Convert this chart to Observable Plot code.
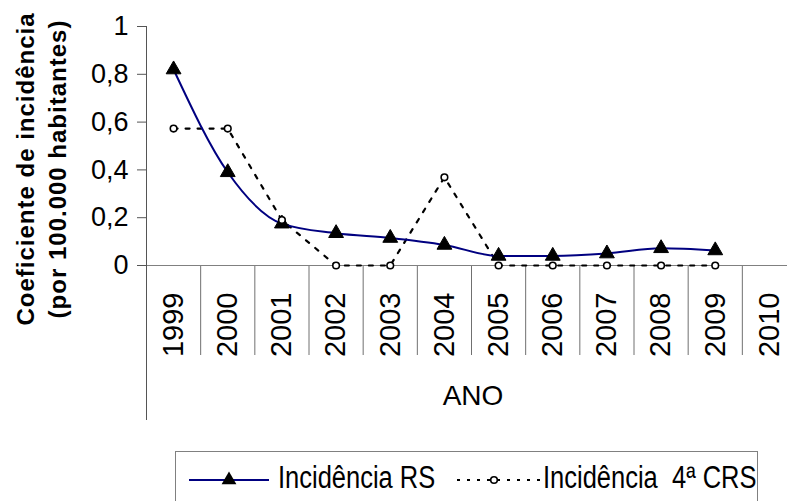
<!DOCTYPE html>
<html><head><meta charset="utf-8">
<script src="https://cdn.jsdelivr.net/npm/d3@7"></script>
<script src="https://cdn.jsdelivr.net/npm/@observablehq/plot@0.6"></script>
<style>
body{margin:0;background:#fff;font-family:"Liberation Sans",Arial,sans-serif;}
#wrap{position:relative;width:787px;height:501px;overflow:hidden;background:#fff;}
#wrap > svg{position:absolute;left:0;top:0;}
#legend{position:absolute;left:175px;top:451px;width:583px;height:60px;border:1px solid #808080;box-sizing:border-box;}
</style></head><body><div id="wrap"><div id="legend"></div></div>
<script>
// ---- data ----
const years = [1999, 2000, 2001, 2002, 2003, 2004, 2005, 2006, 2007, 2008, 2009, 2010];
const dataYears = [1999, 2000, 2001, 2002, 2003, 2004, 2005, 2006, 2007, 2008, 2009];
const rsValues = [0.82, 0.39, 0.175, 0.135, 0.115, 0.086, 0.04, 0.04, 0.05, 0.072, 0.063];
const crsValues = [0.573, 0.573, 0.19, 0, 0, 0.369, 0, 0, 0, 0, 0];
const yTicks = [0, 0.2, 0.4, 0.6, 0.8, 1];
const yTitle1 = "Coeficiente de incidência";
const yTitle2 = "(por 100.000 habitantes)";
const xTitle = "ANO";
const seriesNames = ["Incidência RS", "Incidência  4ª CRS"];

const rs = dataYears.map((year, i) => ({year, value: rsValues[i]}));
const crs = dataYears.map((year, i) => ({year, value: crsValues[i]}));
const boundaries = years.slice(0, -1).map(y => y + 0.5);

const FONT = '"Liberation Sans", Arial, sans-serif';

const chart = Plot.plot({
  width: 787, height: 451,
  marginTop: 26, marginLeft: 146, marginRight: 0, marginBottom: 186,
  style: {fontFamily: FONT, color: "black", background: "white"},
  x: {type: "linear", domain: [1998.5, 2010.5], range: [146, 796]},
  y: {domain: [0, 1], range: [265, 26]},
  marks: [
    Plot.axisX({ticks: boundaries, tickSize: 90, tickFormat: () => "", stroke: "#707070", label: null}),
    Plot.axisX({ticks: years, tickSize: 0, tickRotate: -90, tickPadding: 27, fontSize: 29, tickFormat: d => String(d), label: null}),
    Plot.axisY({ticks: yTicks, tickSize: 9, tickPadding: 9, fontSize: 27, tickFormat: d => String(d).replace(".", ","), label: null, stroke: "#555"}),
    Plot.ruleY([0], {stroke: "#808080"}),
    Plot.ruleX([1998.5], {stroke: "#555", insetBottom: -155}),
    Plot.text([xTitle], {frameAnchor: "bottom", lineAnchor: "top", dy: 120, dx: 6, fontSize: 28}),
    Plot.text([yTitle1], {frameAnchor: "left", textAnchor: "middle", rotate: -90, dx: 26 - 146, dy: 23, fontSize: 24, fontWeight: "bold"}),
    Plot.text([yTitle2], {frameAnchor: "left", textAnchor: "middle", rotate: -90, dx: 58 - 146, dy: 23, fontSize: 24, fontWeight: "bold"}),
    Plot.line(crs, {x: "year", y: "value", stroke: "black", strokeWidth: 2.2, strokeDasharray: "4,8", strokeLinecap: "round"}),
    Plot.line(rs, {x: "year", y: "value", stroke: "#000080", strokeWidth: 2, curve: "monotone-x"}),
    Plot.dot(rs, {x: "year", y: "value", symbol: "triangle", r: 5.5, fill: "black", stroke: "black", strokeWidth: 1}),
    Plot.dot(crs, {x: "year", y: "value", r: 3.3, fill: "white", stroke: "black", strokeWidth: 1.6})
  ]
});
document.getElementById("wrap").prepend(chart);

// letter spacing for y title
d3.select(chart).selectAll("text").filter(function(){ return this.textContent === yTitle1 || this.textContent === yTitle2; })
  .style("letter-spacing", "1px");

// ---- legend ----
const lg = d3.select("#legend").append("svg").attr("width", 583).attr("height", 60)
  .style("font-family", FONT);
lg.append("line").attr("x1", 13).attr("x2", 93).attr("y1", 28).attr("y2", 28).attr("stroke", "#000080").attr("stroke-width", 2);
lg.append("path").attr("d", d3.symbol(d3.symbolTriangle, Math.PI * 5.5 * 5.5)()).attr("transform", "translate(53,28)").attr("fill", "black");
lg.append("text").attr("transform", "translate(102,36) scale(1,1.2)").attr("font-size", 25.5).text(seriesNames[0]);
lg.append("line").attr("x1", 281).attr("x2", 364).attr("y1", 28).attr("y2", 28).attr("stroke", "black").attr("stroke-width", 2).attr("stroke-dasharray", "3,7");
lg.append("circle").attr("cx", 318).attr("cy", 28).attr("r", 3.3).attr("fill", "white").attr("stroke", "black").attr("stroke-width", 1.6);
lg.append("text").attr("transform", "translate(367,36) scale(1,1.2)").attr("font-size", 25.5).style("white-space", "pre").text(seriesNames[1]);
</script>
</body></html>
